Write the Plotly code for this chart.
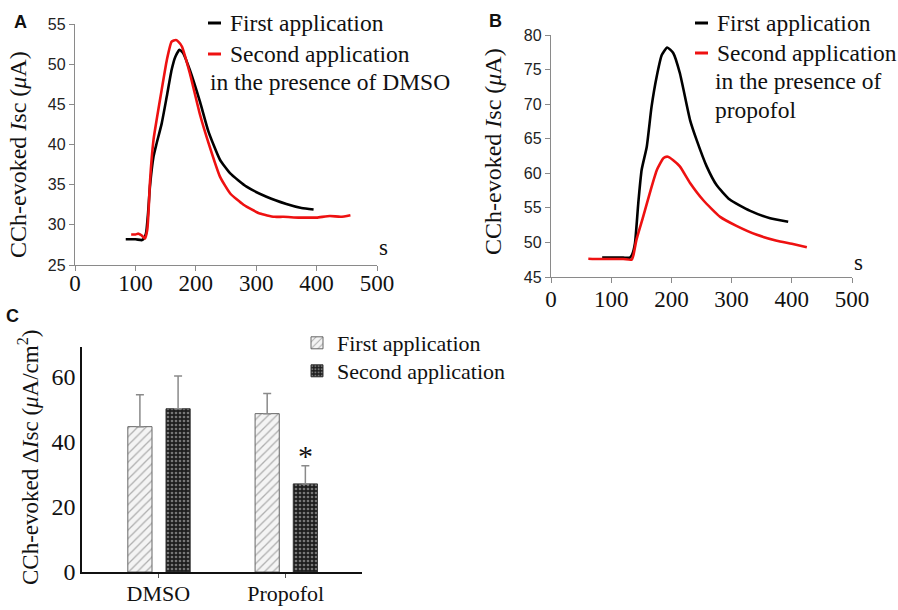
import plotly.graph_objects as go

W, H = 898, 610
def px(x): return x / W
def py(y): return 1 - y / H

# ---------------- Data ----------------
# Panel A (DMSO)
a_first_t = [84, 100, 110, 113, 117.5, 121, 124, 130, 135, 143.5, 152, 160, 166, 173, 179, 190, 207, 221, 240, 257, 284, 317, 350, 375, 395]
a_first_v = [28.2, 28.2, 28.1, 28.2, 28.9, 31.5, 34.7, 38.5, 40.1, 42.6, 46.0, 49.3, 50.9, 51.8, 51.4, 49.3, 45.3, 41.6, 38.1, 36.4, 34.75, 33.5, 32.6, 32.1, 31.9]
a_second_t = [93, 100, 105, 110, 114, 116, 119.7, 122, 124, 130, 135, 143.5, 152, 160, 167, 171, 177, 190, 207, 221, 240, 257, 279, 306, 330, 345, 370, 384, 400, 422, 440, 456]
a_second_v = [28.8, 28.8, 28.9, 28.7, 28.4, 28.3, 29.4, 32.0, 35.2, 40.6, 43.0, 46.8, 50.5, 52.8, 53.0, 52.8, 52.2, 48.9, 43.7, 40.2, 36.0, 33.9, 32.5, 31.4, 31.0, 31.0, 30.9, 30.9, 30.9, 31.1, 31.0, 31.2]

# Panel B (propofol)
b_first_t = [85, 100, 120, 131, 135, 139.5, 145, 150.6, 159, 167, 175.6, 184, 193, 203, 214, 231, 242, 258.6, 275, 297, 330, 364, 394]
b_first_v = [47.8, 47.8, 47.8, 47.8, 48.3, 49.9, 55.7, 60.5, 63.8, 69.6, 74.0, 77.1, 78.2, 77.4, 74.5, 67.7, 64.8, 61.0, 58.3, 56.2, 54.6, 53.5, 53.0]
b_second_t = [62, 80, 100, 120, 134, 137, 142, 153, 164, 176, 187, 194, 203, 214, 231, 253, 281, 308, 342, 375, 400, 425]
b_second_v = [47.65, 47.6, 47.6, 47.6, 47.5, 48.2, 50.4, 53.7, 57.1, 60.5, 62.2, 62.4, 61.9, 61.0, 58.6, 56.1, 53.7, 52.4, 51.1, 50.25, 49.8, 49.3]

# Panel C (bar summary)
c_categories = ["DMSO", "Propofol"]
c_first_mean = [44.7, 48.7]
c_first_err = [9.8, 6.2]
c_second_mean = [50.2, 27.1]
c_second_err = [10.1, 5.6]

SERIF = "Liberation Serif, Times New Roman, serif"
SANS = "Liberation Sans, Arial, sans-serif"
BLACK = "#000000"
RED = "#ee1111"
AXC = "#8a8a8a"

fig = go.Figure()

def curve(t, v, color, xa, ya, name):
    fig.add_trace(go.Scatter(x=t, y=v, mode="lines", line=dict(color=color, width=2.6, shape="spline", smoothing=0.5),
                             xaxis=xa, yaxis=ya, showlegend=False, name=name))

curve(a_first_t, a_first_v, BLACK, "x", "y", "First application")
curve(a_second_t, a_second_v, RED, "x", "y", "Second application in the presence of DMSO")
curve(b_first_t, b_first_v, BLACK, "x2", "y2", "First application")
curve(b_second_t, b_second_v, RED, "x2", "y2", "Second application in the presence of propofol")

cx = list(range(len(c_categories)))
fig.add_trace(go.Bar(
    x=cx, y=c_first_mean, width=0.19, offset=-0.24, xaxis="x3", yaxis="y3",
    name="First application", legend="legend",
    marker=dict(color="#f4f4f4", line=dict(color="#666666", width=1),
                pattern=dict(shape="/", fgcolor="#6a6a6a", bgcolor="#f4f4f4", size=6, solidity=0.22)),
    error_y=dict(type="data", symmetric=False, array=c_first_err, arrayminus=[0]*len(cx),
                 color="#8a8a8a", thickness=1.5, width=4),
))
fig.add_trace(go.Bar(
    x=cx, y=c_second_mean, width=0.19, offset=0.06, xaxis="x3", yaxis="y3",
    name="Second application", legend="legend2",
    marker=dict(color="#222222", line=dict(color="#333333", width=1),
                pattern=dict(shape=".", fgcolor="#d0d0d0", bgcolor="#1e1e1e", size=4, solidity=0.35)),
    error_y=dict(type="data", symmetric=False, array=c_second_err, arrayminus=[0]*len(cx),
                 color="#8a8a8a", thickness=1.5, width=4),
))

line_axis = dict(showline=True, linecolor=AXC, linewidth=1.3, ticks="outside", tickcolor=AXC,
                 ticklen=5, showgrid=False, zeroline=False, automargin=False)

leg_common = dict(xanchor="left", yanchor="middle", bgcolor="rgba(0,0,0,0)",
                  font=dict(family=SERIF, size=22, color="#111"), itemwidth=30, tracegroupgap=0)

fig.update_layout(
    width=W, height=H, margin=dict(l=0, r=0, t=0, b=0, autoexpand=False),
    paper_bgcolor="white", plot_bgcolor="white",
    showlegend=True,
    xaxis=dict(domain=[px(75), px(377)], anchor="y", range=[0, 500], tickvals=[0, 100, 200, 300, 400, 500],
               tickfont=dict(family=SERIF, size=23, color="#111"), ticklabelstandoff=-8, **line_axis),
    yaxis=dict(domain=[py(265), py(24)], anchor="x", range=[25, 55], tickvals=[25, 30, 35, 40, 45, 50, 55],
               tickfont=dict(family=SANS, size=16, color="#222"), **line_axis),
    xaxis2=dict(domain=[px(551), px(852)], anchor="y2", range=[0, 500], tickvals=[0, 100, 200, 300, 400, 500],
                tickfont=dict(family=SERIF, size=23, color="#111"), ticklabelstandoff=-4, **line_axis),
    yaxis2=dict(domain=[py(277), py(35)], anchor="x2", range=[45, 80], tickvals=[45, 50, 55, 60, 65, 70, 75, 80],
                tickfont=dict(family=SANS, size=16, color="#222"), **line_axis),
    xaxis3=dict(domain=[px(82), px(362)], anchor="y3", range=[-0.6, 1.6], tickvals=cx, ticktext=c_categories,
                tickfont=dict(family=SERIF, size=22, color="#111"), showline=True, linecolor="#111", linewidth=1.6,
                ticks="outside", ticklen=4, tickcolor="#555", showgrid=False, zeroline=False, automargin=False,
                ticklabelstandoff=-3),
    yaxis3=dict(domain=[py(572), py(347)], anchor="x3", range=[0, 69.2], tickvals=[0, 20, 40, 60],
                tickfont=dict(family=SERIF, size=24, color="#111"), showline=True, linecolor="#111", linewidth=1.6,
                ticks="", showgrid=False, zeroline=False, automargin=False),
    legend=dict(x=px(297), y=py(343), **leg_common),
    legend2=dict(x=px(297), y=py(371), **leg_common),
)

ann = []
def text(x, y, s, size=23, family=SERIF, xanchor="left", bold=False, color="#111", angle=0):
    ann.append(dict(x=px(x), y=py(y), xref="paper", yref="paper", text=("<b>%s</b>" % s) if bold else s,
                    showarrow=False, xanchor=xanchor, yanchor="middle", textangle=angle,
                    font=dict(family=family, size=size, color=color)))

# Y-axis titles
text(18, 155, "CCh-evoked <i>I</i>sc (<i>μ</i>A)", size=24, xanchor="center", angle=-90)
text(493, 152, "CCh-evoked <i>I</i>sc (<i>μ</i>A)", size=24, xanchor="center", angle=-90)
text(28, 458, "CCh-evoked Δ<i>I</i>sc (<i>μ</i>A/cm<sup>2</sup>)", size=23, xanchor="center", angle=-90)

# Panel letters
text(20, 22, "A", size=18, family=SANS, xanchor="center", bold=True)
text(495, 21, "B", size=18, family=SANS, xanchor="center", bold=True)
text(12, 316, "C", size=18, family=SANS, xanchor="center", bold=True)

# Panel A legend
text(228, 23, "First application", size=23.5)
text(228, 54, "Second application", size=23.5)
text(208, 82, "in the presence of DMSO", size=23.5)
# Panel B legend
text(715, 23, "First application", size=23.5)
text(715, 53, "Second application", size=23.5)
text(713, 81, "in the presence of", size=23.5)
text(713, 110, "propofol", size=23.5)
# s labels
text(383, 247, "s", size=23, xanchor="center")
text(858, 262, "s", size=23, xanchor="center")
# significance asterisk
ann.append(dict(x=1 + 0.06 + 0.095, y=c_second_mean[1] + c_second_err[1] - 2.6, xref="x3", yref="y3",
                text="*", showarrow=False, xanchor="center", yanchor="bottom",
                font=dict(family=SERIF, size=30, color="#111")))
fig.update_layout(annotations=ann)

# legend dashes for panels A and B
shapes = []
for (x0, x1, y, c) in [(208, 221, 23, BLACK), (208, 221, 54, RED), (695, 708, 23, BLACK), (695, 708, 53, RED)]:
    shapes.append(dict(type="line", xref="paper", yref="paper", x0=px(x0), x1=px(x1), y0=py(y), y1=py(y),
                       line=dict(color=c, width=3)))
fig.update_layout(shapes=shapes)

fig.write_html("out.html")
